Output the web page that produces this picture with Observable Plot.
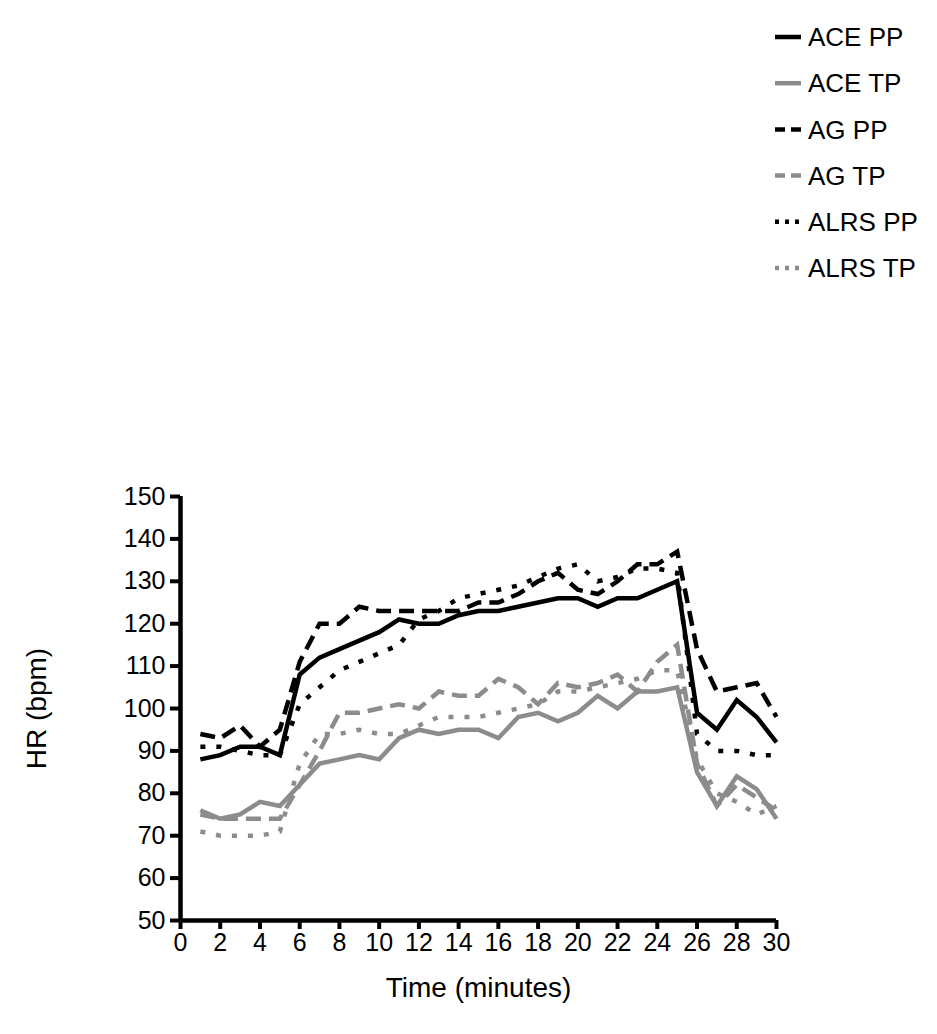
<!DOCTYPE html>
<html><head><meta charset="utf-8">
<script src="https://cdn.jsdelivr.net/npm/d3@7"></script>
<script src="https://cdn.jsdelivr.net/npm/@observablehq/plot@0.6"></script>
<style>
html,body{margin:0;padding:0;background:#fff;}
#wrap{position:relative;width:937px;height:1034px;font-family:"Liberation Sans",Arial,sans-serif;overflow:hidden;}
#legend{position:absolute;left:0;top:0;}
#chart{position:absolute;left:0;top:440px;}
</style></head><body><div id="wrap"><div id="legend"></div><div id="chart"></div></div>
<script>
// Data (HR in bpm, by minute)
const minutes = d3.range(1, 31);
const acePP  = [88,89,91,91,89,108,112,114,116,118,121,120,120,122,123,123,124,125,126,126,124,126,126,128,130,99,95,102,98,92];
const aceTP  = [76,74,75,78,77,82,87,88,89,88,93,95,94,95,95,93,98,99,97,99,103,100,104,104,105,85,77,84,81,74];
const agPP   = [94,93,96,91,95,111,120,120,124,123,123,123,123,123,125,125,127,130,132,128,127,130,134,134,137,114,104,105,106,98];
const agTP   = [75,74,74,74,74,82,90,99,99,100,101,100,104,103,103,107,105,101,106,105,106,108,104,111,115,87,77,82,79,76];
const alrsPP = [91,91,90,89,89,101,105,109,111,113,115,121,123,126,127,128,129,131,133,134,130,131,133,133,132,94,90,90,89,89];
const alrsTP = [71,70,70,70,71,87,94,94,95,94,94,96,98,98,98,99,100,101,104,104,105,106,107,109,109,88,80,78,75,77];

const seriesNames  = ["ACE PP","ACE TP","AG PP","AG TP","ALRS PP","ALRS TP"];
const seriesValues = [acePP, aceTP, agPP, agTP, alrsPP, alrsTP];
const seriesColors = ["#000000","#8c8c8c","#000000","#8c8c8c","#000000","#8c8c8c"];
const seriesDash   = [null, null, "15,8", "15,8", "5,11", "5,11"];
const legendDash   = [null, null, "10,6", "10,6", "4,6", "4,6"];
const xTicks = d3.range(0, 31, 2);
const yTicks = d3.range(50, 151, 10);
const xLabel = "Time (minutes)";
const yLabel = "HR (bpm)";

const FONT = '"Liberation Sans", Arial, sans-serif';

const lineMarks = seriesValues.map((vals, i) => {
  const rows = minutes.map((m, j) => ({t: m, hr: vals[j], series: seriesNames[i]}));
  const opts = {x: "t", y: "hr", stroke: seriesColors[i], strokeWidth: 4.5,
    strokeLinecap: "butt", strokeLinejoin: "miter", strokeMiterlimit: 4};
  if (seriesDash[i]) opts.strokeDasharray = seriesDash[i];
  return Plot.line(rows, opts);
});

const chart = Plot.plot({
  width: 937,
  height: 594,
  marginLeft: 180,
  marginRight: 161,
  marginTop: 56,
  marginBottom: 114,
  style: {fontFamily: FONT, color: "#000", background: "#fff", overflow: "visible"},
  x: {domain: [0, 30]},
  y: {domain: [50, 150]},
  marks: [
    Plot.axisY({ticks: yTicks, tickSize: 10, tickPadding: 5, fontSize: 25, label: null, strokeWidth: 4, stroke: "#000"}),
    Plot.axisY({ticks: [], label: yLabel, labelAnchor: "center", labelArrow: "none", labelOffset: 154, fontSize: 28}),
    Plot.axisX({ticks: xTicks, tickSize: 9, tickPadding: 4, fontSize: 25, label: null, strokeWidth: 4, stroke: "#000"}),
    Plot.axisX({ticks: [], label: xLabel, labelAnchor: "center", labelArrow: "none", labelOffset: 76, fontSize: 28}),
    ...lineMarks,
    Plot.ruleY([50], {stroke: "#000", strokeWidth: 4.5}),
    Plot.ruleX([0], {stroke: "#000", strokeWidth: 4.5})
  ]
});
document.getElementById("chart").appendChild(chart);

// Legend
const lg = d3.select("#legend").append("svg").attr("width", 937).attr("height", 440)
  .style("font-family", FONT);
seriesNames.forEach((name, i) => {
  const y = 37 + i * 46.2;
  const ln = lg.append("line").attr("x1", 775).attr("x2", 801).attr("y1", y).attr("y2", y)
    .attr("stroke", seriesColors[i]).attr("stroke-width", 4.5);
  if (legendDash[i]) ln.attr("stroke-dasharray", legendDash[i]);
  lg.append("text").attr("x", 808).attr("y", y).attr("dy", "0.35em")
    .attr("font-size", 26).attr("fill", "#000").text(name);
});
</script></body></html>
